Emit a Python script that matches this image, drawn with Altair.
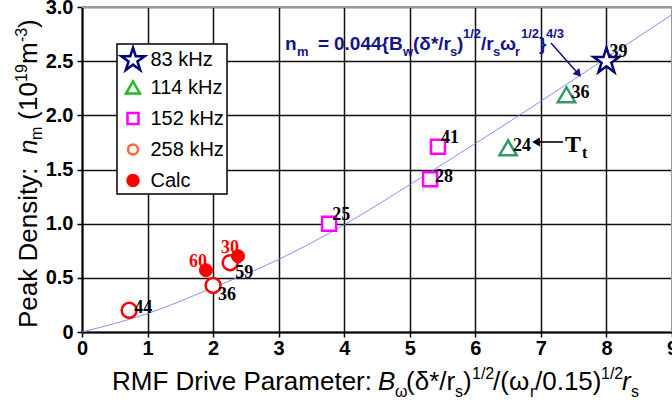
import altair as alt
import pandas as pd

# ---------------- data ----------------
series_names = ["83 kHz", "114 kHz", "152 kHz", "258 kHz", "Calc"]

x_83 = [8.0]
y_83 = [2.5]
lbl_83 = ["39"]
pos_83 = ["ne"]

x_114 = [7.39, 6.5]
y_114 = [2.19, 1.70]
lbl_114 = ["36", "24"]
pos_114 = ["e", "e"]

x_152 = [5.43, 5.31, 3.77]
y_152 = [1.71, 1.41, 1.0]
lbl_152 = ["41", "28", "25"]
pos_152 = ["ne", "e", "ne"]

x_258 = [0.72, 2.0, 2.26]
y_258 = [0.2, 0.43, 0.64]
lbl_258 = ["44", "36", "59"]
pos_258 = ["e", "se", "se"]

x_calc = [1.89, 2.38]
y_calc = [0.57, 0.70]
lbl_calc = ["60", "30"]
pos_calc = ["nw", "nw"]

fit_x = [0, 1, 2, 3, 4, 5, 6, 7, 8, 9]
fit_y = [0, 0.17, 0.41, 0.67, 0.99, 1.36, 1.74, 2.13, 2.53, 2.93]

x_ticks = [0, 1, 2, 3, 4, 5, 6, 7, 8, 9]
y_ticks = [0, 0.5, 1.0, 1.5, 2.0, 2.5, 3.0]

# annotation anchors (data units)
formula_x = [3.097]
formula_y = [2.603]
tt_x = [7.368]
tt_y = [1.662]
arrow1_x = [7.154, 7.573]
arrow1_y = [2.668, 2.382]
arrow2_x = [7.337, 6.925]
arrow2_y = [1.754, 1.754]

# ---------------- styling ----------------
SANS = "Liberation Sans, Arial, Helvetica, sans-serif"
SERIF = "Liberation Serif, Times New Roman, serif"
NAVY = "#000080"
FORMULA_BLUE = "#141489"
STAR = ("M0,-1L0.2233,-0.3074L0.9511,-0.309L0.3614,0.1174L0.5878,0.809"
        "L0,0.38L-0.5878,0.809L-0.3614,0.1174L-0.9511,-0.309L-0.2233,-0.3074Z")

PLOT_LEFT, PLOT_TOP, W, H = 82, 7, 590, 325

frames = []
for name, xs_, ys_, ls_, ps_ in zip(
    series_names,
    [x_83, x_114, x_152, x_258, x_calc],
    [y_83, y_114, y_152, y_258, y_calc],
    [lbl_83, lbl_114, lbl_152, lbl_258, lbl_calc],
    [pos_83, pos_114, pos_152, pos_258, pos_calc],
):
    frames.append(pd.DataFrame({"series": name, "x": xs_, "y": ys_, "label": ls_, "place": ps_}))
pts = pd.concat(frames, ignore_index=True)
fit = pd.DataFrame({"x": fit_x, "y": fit_y})
one = pd.DataFrame({"a": [0]})

xscale = alt.Scale(domain=[0, 9], nice=False, zero=False)
yscale = alt.Scale(domain=[0, 3], nice=False, zero=False)

x_axis = alt.Axis(values=x_ticks, title=None, labelFont=SANS, labelFontWeight="bold",
                  labelFontSize=20, labelColor="black", labelPadding=1, labelFlush=False,
                  labelExpr="format(datum.value, 'd')",
                  tickColor="black", tickSize=5, tickWidth=1.5,
                  domainColor="black", domainWidth=2,
                  grid=True, gridColor="#111111", gridWidth=1.5)
y_axis = alt.Axis(values=y_ticks, title=None, labelFont=SANS, labelFontWeight="bold",
                  labelFontSize=20, labelColor="black", labelPadding=4, labelFlush=False,
                  labelExpr="datum.value == 0 ? '0' : format(datum.value, '.1f')",
                  tickColor="black", tickSize=5, tickWidth=1.5,
                  domainColor="black", domainWidth=2,
                  grid=True, gridColor="#111111", gridWidth=1.5)

X = alt.X("x:Q", scale=xscale, axis=x_axis)
Y = alt.Y("y:Q", scale=yscale, axis=y_axis)

layers = []

# fitted curve
layers.append(alt.Chart(fit).mark_line(color="#7f7fff", strokeWidth=0.9, interpolate="monotone").encode(X, Y))

# gray top/right frame
layers.append(alt.Chart(one).mark_rule(color="#9a9a9a", strokeWidth=2).encode(y=alt.datum(3.0)))
layers.append(alt.Chart(one).mark_rule(color="#9a9a9a", strokeWidth=2).encode(x=alt.datum(9)))

# arrows
layers.append(alt.Chart(one).mark_rule(color=FORMULA_BLUE, strokeWidth=1.6).encode(
    x=alt.datum(arrow1_x[0]), y=alt.datum(arrow1_y[0]), x2=alt.datum(arrow1_x[1]), y2=alt.datum(arrow1_y[1])))
layers.append(alt.Chart(one).mark_point(shape="triangle-up", filled=True, size=80, opacity=1,
                                        color=FORMULA_BLUE, angle=139).encode(
    x=alt.datum(arrow1_x[1]), y=alt.datum(arrow1_y[1])))
layers.append(alt.Chart(one).mark_rule(color="black", strokeWidth=1.6).encode(
    x=alt.datum(arrow2_x[0]), y=alt.datum(arrow2_y[0]), x2=alt.datum(arrow2_x[1]), y2=alt.datum(arrow2_y[1])))
layers.append(alt.Chart(one).mark_point(shape="triangle-up", filled=True, size=80, opacity=1,
                                        color="black", angle=270).encode(
    x=alt.datum(arrow2_x[1]), y=alt.datum(arrow2_y[1])))


def pts_layer(name, shape, size, stroke, fill, sw=2.5):
    return alt.Chart(pts).transform_filter(alt.datum.series == name).mark_point(
        shape=shape, size=size, filled=True, fill=fill, stroke=stroke, strokeWidth=sw, opacity=1
    ).encode(X, Y)


layers.append(pts_layer("258 kHz", "circle", 225, "#ff0000", "white"))
layers.append(pts_layer("Calc", "circle", 170, "#ff0000", "#ff0000", 1))
layers.append(pts_layer("152 kHz", "square", 196, "#ff00ff", "white"))
layers.append(pts_layer("114 kHz", "triangle-up", 300, "#339966", "white"))
layers.append(pts_layer("83 kHz", STAR, 729, NAVY, "white", 2.5))

place_style = {
    "ne": dict(align="left", dx=3, dy=-4),
    "e": dict(align="left", dx=5, dy=3),
    "se": dict(align="left", dx=5, dy=15),
    "nw": dict(align="right", dx=1, dy=-3),
}
for p, st in place_style.items():
    layers.append(alt.Chart(pts).transform_filter(alt.datum.place == p).mark_text(
        font=SERIF, fontWeight="bold", fontSize=18, baseline="alphabetic", **st
    ).encode(X, Y, text="label:N",
             color=alt.condition(alt.datum.series == "Calc", alt.value("#ff0000"), alt.value("black"))))


def txt(text, x_enc, y_enc, size, dx=0, dy=0, style="normal", weight="normal",
        font=SANS, color="black", angle=0, align="left"):
    return alt.Chart(one).mark_text(
        text=text, font=font, fontSize=size, fontStyle=style, fontWeight=weight, color=color,
        align=align, baseline="alphabetic", dx=dx, dy=dy, angle=angle
    ).encode(x=x_enc, y=y_enc)


# formula annotation
formula_segs = [
    ("n", 0, 0, 19), ("m", 12, 6, 13), ("=", 33, 0, 19), ("0.044{B", 49, 0, 19),
    ("w", 118, 6, 13), ("(δ*/r", 128, 0, 19), ("s", 165, 6, 13), (")", 172, 0, 19),
    ("1/2", 178, -12, 13), ("/r", 196, 0, 19), ("s", 208, 6, 13), ("ω", 215, 0, 19),
    ("r", 230, 6, 13), ("1/2", 236, -12, 13), ("}", 254, 0, 19), ("4/3", 261, -12, 13),
]
for t, dx, dy, sz in formula_segs:
    layers.append(txt(t, alt.datum(formula_x[0]), alt.datum(formula_y[0]), sz, dx=dx, dy=dy,
                      weight="bold", color=FORMULA_BLUE))

# T_t annotation
layers.append(txt("T", alt.datum(tt_x[0]), alt.datum(tt_y[0]), 24, weight="bold", font=SERIF))
layers.append(txt("t", alt.datum(tt_x[0]), alt.datum(tt_y[0]), 16, dx=17, dy=6, weight="bold", font=SERIF))

# x title (page pixel positions, baseline)
xt_segs = [
    ("RMF Drive Parameter:", 372, 390, 26, "normal", "right"),
    ("B", 378, 390, 26, "italic", "left"), ("ω", 395, 397, 16, "normal", "left"),
    ("(δ*/r", 406, 390, 26, "normal", "left"), ("s", 455, 397, 16, "normal", "left"),
    (")", 463, 390, 26, "normal", "left"), ("1/2", 472, 379, 16, "normal", "left"),
    ("/(ω", 493, 390, 26, "normal", "left"), ("r", 530, 397, 16, "normal", "left"),
    ("/0.15)", 535, 390, 26, "normal", "left"), ("1/2", 601, 379, 16, "normal", "left"),
    ("r", 622, 390, 26, "italic", "left"), ("s", 631, 397, 16, "normal", "left"),
]
for t, px, py, sz, stl, al in xt_segs:
    layers.append(txt(t, alt.value(px - PLOT_LEFT), alt.value(py - PLOT_TOP), sz, style=stl, align=al))

# y title (rotated; dx runs up the page, dy to the right)
yt_segs = [
    ("Peak Density:", 0, 0, 26, "normal"), ("n", 174, 0, 26, "italic"), ("m", 188, 5, 16, "normal"),
    ("(", 208, 0, 26, "normal"), ("10", 217, 0, 26, "normal"), ("19", 246, -10, 16, "normal"),
    ("m", 264, 0, 26, "normal"), ("-3", 286, -10, 16, "normal"), (")", 300, 0, 26, "normal"),
]
for t, dx, dy, sz, stl in yt_segs:
    layers.append(txt(t, alt.value(37 - PLOT_LEFT), alt.value(328 - PLOT_TOP), sz, dx=dx, dy=dy,
                      style=stl, angle=270))

# legend (own symbols, drawn from an empty layer)
leg_shapes = [STAR, "triangle-up", "square", "circle", "circle"]
leg_strokes = [NAVY, "#22bb22", "#ff00ff", "#ff6633", "#ff0000"]
leg_fills = ["white", "white", "white", "white", "#ff0000"]
leg_sizes = [600, 196, 121, 100, 121]
LEG_EXPR = "datum.label + '  '"
legend_layer = alt.Chart(pd.DataFrame({"series": series_names})).transform_filter("false").mark_point(
    filled=True, opacity=1, strokeWidth=2.5
).encode(
    shape=alt.Shape("series:N", scale=alt.Scale(domain=series_names, range=leg_shapes),
                    legend=alt.Legend(title=None, labelExpr=LEG_EXPR)),
    stroke=alt.Stroke("series:N", scale=alt.Scale(domain=series_names, range=leg_strokes),
                      legend=alt.Legend(title=None, labelExpr=LEG_EXPR)),
    fill=alt.Fill("series:N", scale=alt.Scale(domain=series_names, range=leg_fills),
                  legend=alt.Legend(title=None, labelExpr=LEG_EXPR)),
    size=alt.Size("series:N", scale=alt.Scale(type="ordinal", domain=series_names, range=leg_sizes),
                  legend=alt.Legend(title=None, labelExpr=LEG_EXPR)),
)
layers.append(legend_layer)

chart = alt.layer(*layers).properties(
    width=W, height=H,
    padding={"left": PLOT_LEFT, "top": PLOT_TOP, "right": 0, "bottom": 404 - PLOT_TOP - H},
    autosize=alt.AutoSizeParams(type="none"),
    background="white",
).configure_view(stroke=None).configure_legend(
    orient="none", legendX=35, legendY=37, padding=2.5, strokeColor="black", strokeWidth=1.5,
    fillColor="white", labelFont=SANS, labelFontSize=20, labelColor="black", labelOffset=4,
    rowPadding=0, symbolStrokeWidth=2.5, gridAlign="all",
)

chart.save("out.html", embed_options={"renderer": "svg", "actions": False})
